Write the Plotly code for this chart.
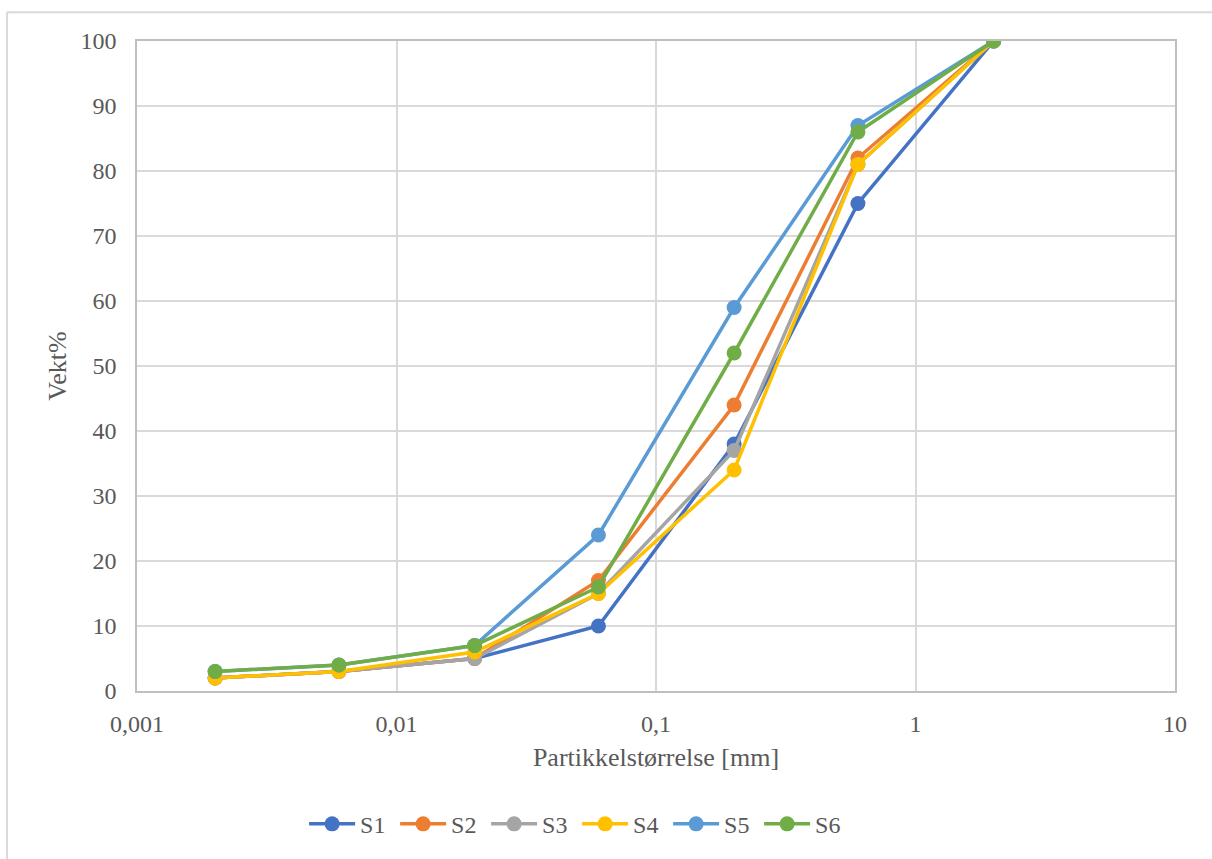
import plotly.graph_objects as go

# Sieve sizes (mm) and cumulative passing (weight %)
sizes = [0.002, 0.006, 0.02, 0.06, 0.2, 0.6, 2]
s1 = [2, 3, 5, 10, 38, 75, 100]
s2 = [2, 3, 5, 17, 44, 82, 100]
s3 = [2, 3, 5, 15, 37, 81, 100]
s4 = [2, 3, 6, 15, 34, 81, 100]
s5 = [3, 4, 7, 24, 59, 87, 100]
s6 = [3, 4, 7, 16, 52, 86, 100]

series_names = ["S1", "S2", "S3", "S4", "S5", "S6"]
series_values = [s1, s2, s3, s4, s5, s6]
colors = ["#4472C4", "#ED7D31", "#A5A5A5", "#FFC000", "#5B9BD5", "#70AD47"]

x_tickvals = [0.001, 0.01, 0.1, 1, 10]
x_ticktext = ["0,001", "0,01", "0,1", "1", "10"]

font_family = "Liberation Serif"
text_gray = "#595959"
grid_gray = "#D9D9D9"

fig = go.Figure()
for name, vals, col in zip(series_names, series_values, colors):
    fig.add_trace(go.Scatter(
        x=sizes, y=vals, name=name, mode="lines+markers",
        line=dict(color=col, width=3.5),
        marker=dict(color=col, size=15),
    ))

fig.update_layout(
    width=1212, height=859,
    margin=dict(l=137, r=37, t=41, b=165),
    paper_bgcolor="white", plot_bgcolor="white",
    font=dict(family=font_family, color=text_gray, size=24),
    showlegend=True,
    legend=dict(
        orientation="h", x=0.424, xanchor="center", y=-0.205, yanchor="middle",
        font=dict(family=font_family, size=24, color=text_gray),
        itemwidth=46, entrywidth=30, entrywidthmode="pixels",
    ),
    xaxis=dict(
        type="log", range=[-3, 1],
        tickvals=x_tickvals, ticktext=x_ticktext,
        showgrid=True, gridcolor=grid_gray, gridwidth=1.5,
        showline=True, linecolor="#BFBFBF", linewidth=1.5, mirror=True,
        ticks="", ticklabelstandoff=10,
        tickfont=dict(family=font_family, size=24, color=text_gray),
        title=dict(text="Partikkelstørrelse [mm]",
                   font=dict(family=font_family, size=26, color=text_gray), standoff=12),
        zeroline=False,
    ),
    yaxis=dict(
        range=[0, 100], dtick=10,
        showgrid=True, gridcolor=grid_gray, gridwidth=1.5,
        showline=True, linecolor="#BFBFBF", linewidth=1.5, mirror=True,
        ticks="", ticklabelstandoff=14,
        tickfont=dict(family=font_family, size=24, color=text_gray),
        title=dict(text="Vekt%", font=dict(family=font_family, size=26, color=text_gray), standoff=6),
        zeroline=False,
    ),
)

# Chart-area frame
fig.add_shape(type="line", xref="paper", yref="paper",
              x0=-0.1252, x1=-0.1252, y0=-0.26, y1=1.0444,
              line=dict(color=grid_gray, width=2))
fig.add_shape(type="line", xref="paper", yref="paper",
              x0=-0.1252, x1=1.04, y0=1.0444, y1=1.0444,
              line=dict(color=grid_gray, width=2))

fig.write_html("out.html")
